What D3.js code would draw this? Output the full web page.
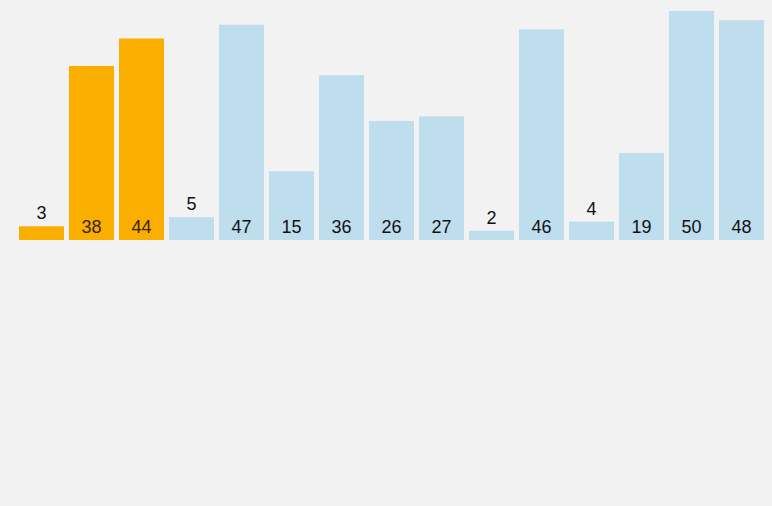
<!DOCTYPE html>
<html><head><meta charset="utf-8">
<script src="https://cdn.jsdelivr.net/npm/d3@7"></script>
<style>html,body{margin:0;padding:0;background:#f2f2f2;}svg{display:block;}</style>
</head><body>
<svg id="c" width="772" height="506"></svg>
<script>
const values = [3, 38, 44, 5, 47, 15, 36, 26, 27, 2, 46, 4, 19, 50, 48];
const highlighted = [0, 1, 2];
const colors = {highlight: "#f9ae00", normal: "#bedeed"};

const svg = d3.select("#c");
const x = d3.scaleBand().domain(d3.range(values.length)).range([19, 764]).paddingInner(0.1).paddingOuter(0);
const y = d3.scaleLinear().domain([0, 50]).range([240, 11]);

svg.append("rect").attr("width", 772).attr("height", 506).attr("fill", "#f2f2f2");

svg.selectAll("rect.bar").data(values).join("rect")
  .attr("class", "bar")
  .attr("x", (d, i) => x(i))
  .attr("y", d => y(d))
  .attr("width", x.bandwidth())
  .attr("height", d => y(0) - y(d))
  .attr("fill", (d, i) => highlighted.includes(i) ? colors.highlight : colors.normal);

svg.selectAll("text.lbl").data(values).join("text")
  .attr("class", "lbl")
  .attr("x", (d, i) => x(i) + x.bandwidth() / 2)
  .attr("y", d => (y(0) - y(d)) < 30 ? y(d) - 7 : y(0) - 7)
  .attr("text-anchor", "middle")
  .attr("font-family", "Liberation Sans, Arial, Helvetica, sans-serif")
  .attr("font-size", 18)
  .attr("fill", (d, i) => highlighted.includes(i) && (y(0) - y(d)) >= 30 ? "#3a2200" : "#111")
  .text(d => d);
</script>
</body></html>
